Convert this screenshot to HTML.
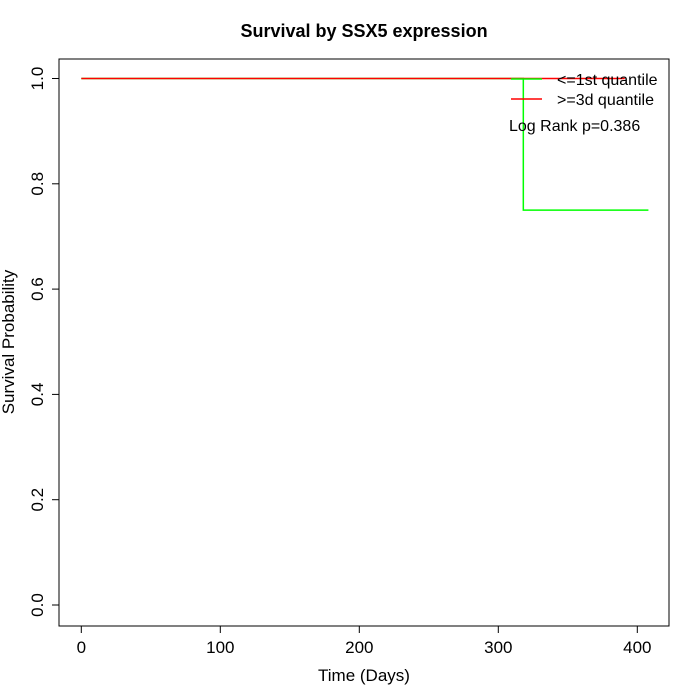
<!DOCTYPE html>
<html><head><meta charset="utf-8"><style>body{margin:0;background:#fff}svg{display:block;font-family:"Liberation Sans",sans-serif}</style></head>
<body>
<svg id="c" width="700" height="700">
<rect width="700" height="700" fill="#fff"/>
<text x="364" y="37" text-anchor="middle" font-size="18" font-weight="bold">Survival by SSX5 expression</text>
<rect x="59" y="59" width="610" height="567" fill="none" stroke="#000"/>
<g id="axes"></g><g id="series"></g>
<text x="364" y="681" text-anchor="middle" font-size="17">Time (Days)</text>
<text transform="translate(14,342) rotate(-90)" text-anchor="middle" font-size="17">Survival Probability</text>
<g>
<line x1="511" y1="79" x2="542" y2="79" stroke="#00ff00" stroke-width="1.5"/>
<text x="557" y="85" font-size="16">&lt;=1st quantile</text>
<line x1="511" y1="99" x2="542" y2="99" stroke="#ff0000" stroke-width="1.5"/>
<text x="557" y="105" font-size="16">&gt;=3d quantile</text>
<text x="509" y="131" font-size="16">Log Rank p=0.386</text>
</g>
</svg>
<script>
const xTicks=[0,100,200,300,400];
const yTicks=[0,0.2,0.4,0.6,0.8,1.0];
const lowTimes=[0,318,408];
const lowSurv=[1,0.75,0.75];
const highTimes=[0,391];
const highSurv=[1,1];
const X=d=>81.3+d*1.39, Y=p=>605-p*526.5;
const NS="http://www.w3.org/2000/svg";
const ax=document.getElementById('axes'), se=document.getElementById('series');
function mk(tag,at,par){const e=document.createElementNS(NS,tag);for(const k in at)e.setAttribute(k,at[k]);par.appendChild(e);return e;}
xTicks.forEach(t=>{
 const l=mk('line',{x1:X(t),x2:X(t),y1:626,y2:633,stroke:'#000'},ax);
 
 
 const tx=mk('text',{x:X(t),y:653,'text-anchor':'middle','font-size':'17'},ax);tx.textContent=t;
 
 
});
yTicks.forEach(t=>{
 const l=mk('line',{x1:52,x2:59,y1:Y(t),y2:Y(t),stroke:'#000'},ax);
 
 
 const tx=mk('text',{transform:`translate(43,${Y(t)}) rotate(-90)`,'text-anchor':'middle','font-size':'17'},ax);tx.textContent=t.toFixed(1);
 
 
});
function step(ts,ss){let d=`M${X(ts[0])},${Y(ss[0])}`;for(let i=1;i<ts.length;i++){d+=`H${X(ts[i])}V${Y(ss[i])}`;}return d;}
const g=mk('path',{d:step(lowTimes,lowSurv),fill:'none',stroke:'#00ff00','stroke-width':1.5},se);


const r=mk('path',{d:step(highTimes,highSurv),fill:'none',stroke:'#ff0000','stroke-width':1.5},se);


</script>
</body></html>
